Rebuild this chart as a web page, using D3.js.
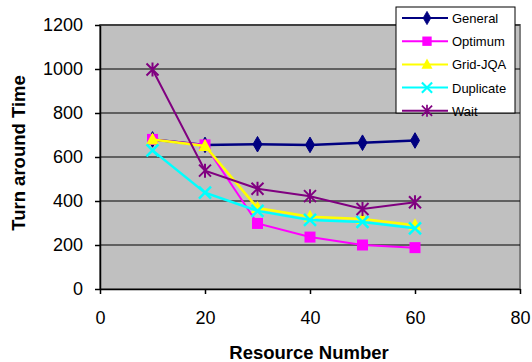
<!DOCTYPE html>
<html>
<head>
<meta charset="utf-8">
<script src="https://cdn.jsdelivr.net/npm/d3@7"></script>
<style>
  body { margin: 0; background: #fff; }
  svg { display: block; font-family: "Liberation Sans", Arial, sans-serif; }
</style>
</head>
<body>
<svg id="chart"></svg>
<script>
// data
const resources = [10, 20, 30, 40, 50, 60];
const general   = [680, 655, 658, 655, 665, 675];
const optimum   = [680, 655, 298, 236, 200, 188];
const gridJQA   = [680, 650, 368, 328, 318, 290];
const duplicate = [630, 438, 355, 314, 305, 276];
const wait      = [998, 538, 456, 422, 364, 394];
const seriesNames = ["General", "Optimum", "Grid-JQA", "Duplicate", "Wait"];
const xTicks = [0, 20, 40, 60, 80];
const yTicks = [0, 200, 400, 600, 800, 1000, 1200];

const series = [
  { name: seriesNames[0], values: general,   color: "#000080", marker: "diamond" },
  { name: seriesNames[1], values: optimum,   color: "#FF00FF", marker: "square" },
  { name: seriesNames[2], values: gridJQA,   color: "#FFFF00", marker: "triangle" },
  { name: seriesNames[3], values: duplicate, color: "#00FFFF", marker: "cross" },
  { name: seriesNames[4], values: wait,      color: "#800080", marker: "star" }
];

const W = 532, H = 362;
const margin = { top: 25, right: 12, bottom: 73, left: 100 };
const width = W - margin.left - margin.right;
const height = H - margin.top - margin.bottom;

const svg = d3.select("#chart").attr("width", W).attr("height", H);
const chart = svg.append("g").attr("transform", `translate(${margin.left},${margin.top})`);

const x = d3.scaleLinear().domain([0, 80]).range([0, width]);
const y = d3.scaleLinear().domain([0, 1200]).range([height, 0]);

// plot background
chart.append("rect")
  .attr("x", 0).attr("y", 0).attr("width", width).attr("height", height)
  .attr("fill", "#C0C0C0")
  .attr("stroke", "#808080").attr("stroke-width", 2);

// gridlines
chart.append("g").selectAll("line")
  .data(yTicks.filter(d => d > 0))
  .join("line")
  .attr("x1", 0).attr("x2", width)
  .attr("y1", d => y(d)).attr("y2", d => y(d))
  .attr("stroke", "#000").attr("stroke-width", 1);

// axes
const xAxis = d3.axisBottom(x).tickValues(xTicks).tickFormat(d3.format("d")).tickSize(5).tickSizeOuter(0);
const yAxis = d3.axisLeft(y).tickValues(yTicks).tickFormat(d3.format("d")).tickSize(5).tickSizeOuter(0);

const xg = chart.append("g").attr("transform", `translate(0,${height})`).call(xAxis);
xg.selectAll("text").attr("font-size", 18).attr("fill", "#000").attr("y", 22).attr("dy", "0.71em").attr("font-family", "Liberation Sans, Arial");
xg.selectAll("line, path").attr("stroke", "#000").attr("stroke-width", 1.5);

const yg = chart.append("g").call(yAxis);
yg.selectAll("text").attr("font-size", 18).attr("fill", "#000").attr("x", -17).attr("font-family", "Liberation Sans, Arial");
yg.selectAll("line, path").attr("stroke", "#000").attr("stroke-width", 1.5);

// axis titles
svg.append("text")
  .attr("x", margin.left + width / 2 - 1).attr("y", 359)
  .attr("text-anchor", "middle").attr("font-size", 18.5).attr("font-weight", "bold")
  .text("Resource Number");

svg.append("text")
  .attr("transform", `translate(25,${margin.top + height / 2 - 4}) rotate(-90)`)
  .attr("text-anchor", "middle").attr("font-size", 18.5).attr("font-weight", "bold")
  .text("Turn around Time");

// markers
function drawMarker(g, type, color) {
  if (type === "diamond") {
    g.append("path").attr("d", d3.symbol(d3.symbolDiamond, 70)()).attr("fill", color).attr("stroke", color);
  } else if (type === "square") {
    g.append("rect").attr("x", -5.5).attr("y", -5.5).attr("width", 11).attr("height", 11).attr("fill", color);
  } else if (type === "triangle") {
    g.append("path").attr("d", "M0,-7L6.5,5L-6.5,5Z").attr("fill", color);
  } else if (type === "cross") {
    g.append("path").attr("d", "M-6,-6L6,6M-6,6L6,-6").attr("stroke", color).attr("stroke-width", 2.5);
  } else if (type === "star") {
    g.append("path").attr("d", "M-6,-6L6,6M-6,6L6,-6M0,-7L0,7").attr("stroke", color).attr("stroke-width", 2);
  }
}

const line = d3.line()
  .x((d, i) => x(resources[i]))
  .y(d => y(d));

series.forEach(s => {
  chart.append("path")
    .datum(s.values)
    .attr("fill", "none")
    .attr("stroke", s.color)
    .attr("stroke-width", s.marker === "star" || s.marker === "square" ? 2 : 2.5)
    .attr("d", line);
  s.values.forEach((v, i) => {
    const g = chart.append("g").attr("transform", `translate(${x(resources[i])},${y(v)})`);
    drawMarker(g, s.marker, s.color);
  });
});

// legend
const legend = svg.append("g").attr("transform", "translate(396,7)");
legend.append("rect")
  .attr("width", 119).attr("height", 106)
  .attr("fill", "#fff").attr("stroke", "#000").attr("stroke-width", 1);

series.forEach((s, i) => {
  const row = legend.append("g").attr("transform", `translate(0,${11 + i * 23.2})`);
  row.append("line").attr("x1", 6).attr("x2", 52).attr("y1", 0).attr("y2", 0)
    .attr("stroke", s.color).attr("stroke-width", 2);
  const m = row.append("g").attr("transform", "translate(31,0) scale(0.85)");
  drawMarker(m, s.marker, s.color);
  row.append("text").attr("x", 56).attr("y", 5)
    .attr("font-size", 13).attr("fill", "#000").text(s.name);
});
</script>
</body>
</html>
